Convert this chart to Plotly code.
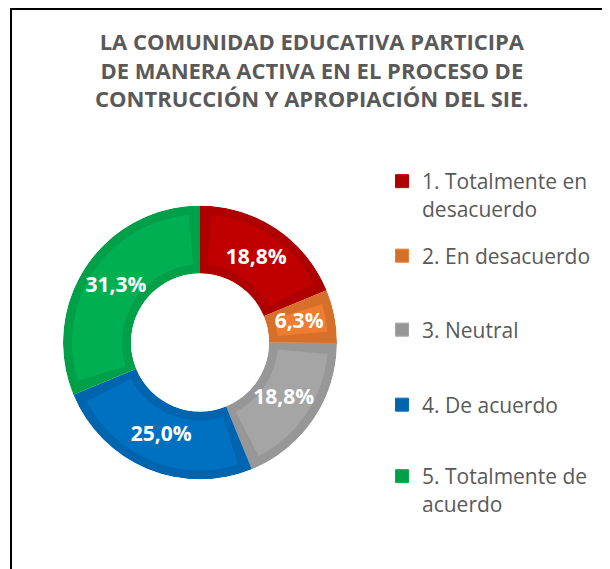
import plotly.graph_objects as go

# datos
categorias = ["1. Totalmente en<br>desacuerdo", "2. En desacuerdo", "3. Neutral",
              "4. De acuerdo", "5. Totalmente de<br>acuerdo"]
porcentajes = [18.8, 6.3, 18.8, 25.0, 31.3]

colores = ["#C00000", "#ED7D31", "#A5A5A5", "#0070C0", "#00B050"]
bordes = ["#AE0000", "#D66F2A", "#979797", "#0064AE", "#00A048"]

titulo = ("LA COMUNIDAD EDUCATIVA PARTICIPA<br>DE MANERA ACTIVA EN EL PROCESO DE<br>"
          "CONTRUCCIÓN Y APROPIACIÓN DEL SIE.")

# la pagina deja 8px de margen en el body: la figura ocupa el resto de la ventana
OFF = 8
W, H = 610 - OFF, 569 - OFF
fuente = "Open Sans"


def px(x):
    return (x - OFF) / W


def py(y):
    return 1 - (y - OFF) / H


# geometria del anillo (px)
R_EXT, R_INT = 137, 69
BANDA = 9          # borde oscuro interior de cada sector
ancho_anillo = R_EXT - R_INT
delta = BANDA / ((R_EXT + R_INT) / 2) * 180 / 3.14159

total = sum(porcentajes)
anchos = [v / total * 360 for v in porcentajes]
centros = []
acum = 0
for a in anchos:
    centros.append(acum + a / 2)
    acum += a
textos = [f"{v:.1f}%".replace(".", ",") for v in porcentajes]

fig = go.Figure()

# sector completo en tono oscuro (borde)
fig.add_trace(go.Barpolar(
    theta=centros, width=anchos, r=[1] * len(porcentajes), base=0,
    marker=dict(color=bordes, line=dict(width=0)),
    showlegend=False, hoverinfo="skip",
))
# relleno claro, metido hacia dentro
fig.add_trace(go.Barpolar(
    theta=centros, width=[a - 2 * delta for a in anchos],
    r=[1 - 2 * BANDA / ancho_anillo] * len(porcentajes), base=BANDA / ancho_anillo,
    marker=dict(color=colores, line=dict(width=0)),
    customdata=porcentajes, hovertemplate="%{customdata:.1f}%<extra></extra>",
    showlegend=False,
))
# etiquetas de datos
fig.add_trace(go.Scatterpolar(
    r=[(101 - R_INT) / ancho_anillo] * len(porcentajes), theta=centros,
    mode="text", text=textos,
    textfont=dict(family=fuente, size=21, color="white", weight="bold"),
    showlegend=False, hoverinfo="skip",
))

# leyenda: una por categoria para poder espaciarlas como en el original
leyenda_y = [161, 256, 330, 405, 456]
leyenda_anchor = ["top", "middle", "middle", "middle", "top"]
for i, (cat, col, bor) in enumerate(zip(categorias, colores, bordes)):
    nombre = "legend" if i == 0 else f"legend{i + 1}"
    fig.add_trace(go.Scatter(
        x=[None], y=[None], mode="markers", name=cat,
        marker=dict(symbol="square", size=13, color=bor, line=dict(color=col, width=1)),
        legend=nombre, showlegend=True, hoverinfo="skip",
    ))
    fig.update_layout({nombre: dict(
        x=px(382), xanchor="left",
        y=py(leyenda_y[i]), yanchor=leyenda_anchor[i],
        valign="top", bgcolor="rgba(0,0,0,0)", borderwidth=0,
        font=dict(family=fuente, size=21, color="#595959"),
    )})

fig.update_layout(
    width=W, height=H, autosize=False,
    margin=dict(l=0, r=0, t=0, b=0),
    paper_bgcolor="white", plot_bgcolor="white",
    xaxis=dict(visible=False), yaxis=dict(visible=False),
    polar=dict(
        domain=dict(x=[px(200 - R_EXT), px(200 + R_EXT)],
                    y=[py(342.5 + R_EXT), py(342.5 - R_EXT)]),
        hole=R_INT / R_EXT,
        bgcolor="rgba(0,0,0,0)",
        bargap=0,
        radialaxis=dict(visible=False, range=[0, 1]),
        angularaxis=dict(visible=False, rotation=90, direction="clockwise"),
    ),
    annotations=[dict(
        text=titulo, showarrow=False,
        xref="paper", yref="paper", x=px(312), y=py(70),
        xanchor="center", yanchor="middle", align="center",
        font=dict(family=fuente, size=22, color="#595959", weight="bold"),
    )],
    shapes=[
        dict(type="line", xref="paper", yref="paper", x0=px(11), x1=px(11),
             y0=-0.1, y1=1, line=dict(color="black", width=2)),
        dict(type="line", xref="paper", yref="paper", x0=px(10), x1=1.1,
             y0=py(9), y1=py(9), line=dict(color="black", width=2)),
    ],
)

fig.write_html("out.html")
